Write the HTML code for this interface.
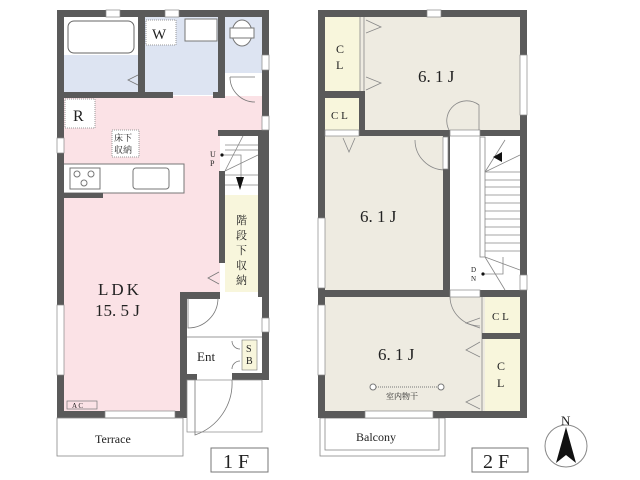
<!DOCTYPE html>
<html><head><meta charset="utf-8"><style>
body{margin:0;background:#fff}
svg{display:block}
text{font-family:"Liberation Serif","Noto Serif CJK SC",serif;fill:#222}
</style></head><body>
<svg width="640" height="480" viewBox="0 0 640 480" xmlns="http://www.w3.org/2000/svg">
<!-- ===== 1F ===== -->
<rect x="62" y="96" width="200" height="198" fill="#fbe2e6"/>
<rect x="62" y="290" width="120" height="126" fill="#fbe2e6"/>
<rect x="185" y="292" width="78" height="90" fill="#fff"/>
<rect x="220" y="132" width="42" height="162" fill="#fff"/>
<rect x="63" y="17" width="77" height="78" fill="#dde4f2"/>
<rect x="63" y="17" width="77" height="38" fill="#fff"/>
<rect x="68" y="21" width="66" height="32" rx="6" fill="#fff" stroke="#666"/>
<rect x="144" y="17" width="76" height="78" fill="#dde4f2"/>
<rect x="224" y="17" width="38" height="56" fill="#dde4f2"/>
<rect x="225" y="195" width="33" height="97" fill="#f8f6dc"/>
<g stroke="#888" stroke-width="0.8" fill="none">
<line x1="225" y1="145" x2="258" y2="145"/><line x1="225" y1="150" x2="258" y2="150"/>
<line x1="225" y1="175" x2="258" y2="175"/><line x1="225" y1="185" x2="258" y2="185"/>
<line x1="225" y1="171" x2="245" y2="132"/><line x1="225" y1="171" x2="258" y2="155"/>
<polyline points="222,155 241,155 241,185"/>
</g>
<polygon points="236,177 244,177 240,190" fill="#111"/>
<circle cx="222" cy="155" r="1.6" fill="#111"/>
<rect x="63" y="164" width="121" height="29" fill="#fff" stroke="#777"/>
<rect x="70" y="168" width="30" height="21" fill="#fff" stroke="#777"/>
<circle cx="77" cy="174" r="3" fill="none" stroke="#777"/><circle cx="91" cy="174" r="3" fill="none" stroke="#777"/><circle cx="84" cy="183" r="3" fill="none" stroke="#777"/>
<rect x="133" y="168" width="36" height="21" rx="3" fill="#fff" stroke="#777"/>
<rect x="185" y="19" width="32" height="22" fill="#fff" stroke="#777"/>
<ellipse cx="242" cy="33" rx="10" ry="13" fill="#fff" stroke="#777"/>
<rect x="230" y="28" width="24" height="10" fill="#fff" stroke="#777"/>
<g fill="#5a5a5a">
<rect x="57" y="10" width="212" height="7"/>
<rect x="57" y="10" width="7" height="408"/>
<rect x="262" y="10" width="7" height="370"/>
<rect x="57" y="411" width="130" height="7"/>
<rect x="180" y="292" width="7" height="126"/>
<rect x="180" y="292" width="40" height="7"/>
<rect x="63" y="92" width="110" height="6"/>
<rect x="213" y="92" width="12" height="6"/>
<rect x="138" y="17" width="7" height="78"/>
<rect x="218" y="17" width="7" height="80"/>
<rect x="218" y="130" width="45" height="6"/>
<rect x="219" y="171" width="6" height="92"/>
<rect x="258" y="132" width="5" height="165"/>
<rect x="63" y="193" width="40" height="5"/>
<rect x="232" y="373" width="37" height="7"/>
<rect x="187" y="374" width="10" height="6"/>
</g>
<g fill="#fff" stroke="#888" stroke-width="0.7">
<rect x="106" y="10" width="14" height="7"/><rect x="165" y="10" width="14" height="7"/>
<rect x="262" y="55" width="7" height="15"/><rect x="262" y="116" width="7" height="14"/>
<rect x="57" y="138" width="7" height="15"/><rect x="57" y="305" width="7" height="70"/>
<rect x="105" y="411" width="70" height="7"/><rect x="262" y="318" width="7" height="14"/>
</g>
<g fill="none" stroke="#777" stroke-width="0.8">
<path d="M230 77 A25 25 0 0 0 255 102"/><line x1="230" y1="77" x2="255" y2="77"/>
<path d="M188 298 v30 A30 30 0 0 0 218 298"/>
<path d="M195 380 v55 A55 55 0 0 0 232 380"/>
<polyline points="138,75 128,80 138,85"/>
<polyline points="219,272 208,278 219,284"/>
<line x1="187" y1="337" x2="262" y2="337"/>
<path d="M232 341 a8 8 0 0 0 8 8 M232 369 a8 8 0 0 1 8 -8"/>
</g>
<rect x="242" y="340" width="15" height="30" fill="#f8f6dc" stroke="#777" stroke-width="0.6"/>
<rect x="187" y="380" width="75" height="52" fill="none" stroke="#888" stroke-width="0.7"/>
<rect x="57" y="418" width="126" height="38" fill="none" stroke="#888" stroke-width="0.8"/>
<rect x="65" y="99" width="30" height="29" fill="#fff" stroke="#999" stroke-dasharray="1,1"/>
<text x="73" y="121" font-size="16">R</text>
<rect x="146" y="20" width="30" height="25" fill="#fff" stroke="#999" stroke-dasharray="1,1"/>
<text x="152" y="39" font-size="15">W</text>
<rect x="112" y="130" width="27" height="27" fill="#fff" stroke="#999" stroke-dasharray="1,1"/>
<text x="114" y="141" font-size="9">床下</text><text x="114" y="153" font-size="9">収納</text>
<text x="210" y="157" font-size="8">U</text><text x="210" y="166" font-size="8">P</text>
<text x="236" y="224" font-size="11">階</text><text x="236" y="239" font-size="11">段</text><text x="236" y="254" font-size="11">下</text><text x="236" y="269" font-size="11">収</text><text x="236" y="284" font-size="11">納</text>
<text x="98" y="295" font-size="17" letter-spacing="3">LDK</text>
<text x="95" y="316" font-size="17">15. 5 J</text>
<rect x="67" y="401" width="30" height="8" fill="none" stroke="#777" stroke-width="0.7"/>
<text x="72" y="408" font-size="7">A C</text>
<text x="197" y="361" font-size="13">Ent</text>
<text x="246" y="352" font-size="10">S</text><text x="246" y="364" font-size="10">B</text>
<text x="95" y="443" font-size="12">Terrace</text>
<rect x="211" y="448" width="57" height="24" fill="#fff" stroke="#777"/>
<text x="223" y="468" font-size="20">1 F</text>

<!-- ===== 2F ===== -->
<rect x="325" y="17" width="196" height="395" fill="#eeebe1"/>
<rect x="325" y="17" width="35" height="74" fill="#f8f6dc"/>
<rect x="325" y="98" width="34" height="32" fill="#f8f6dc"/>
<rect x="450" y="136" width="70" height="155" fill="#fff"/>
<rect x="485" y="297" width="35" height="36" fill="#f8f6dc"/>
<rect x="485" y="339" width="35" height="72" fill="#f8f6dc"/>
<g stroke="#888" stroke-width="0.8" fill="none">
<rect x="480" y="137" width="5" height="120"/>
<line x1="485" y1="172" x2="520" y2="172"/><line x1="485" y1="180" x2="520" y2="180"/><line x1="485" y1="187" x2="520" y2="187"/><line x1="485" y1="195" x2="520" y2="195"/><line x1="485" y1="203" x2="520" y2="203"/><line x1="485" y1="211" x2="520" y2="211"/><line x1="485" y1="219" x2="520" y2="219"/><line x1="485" y1="227" x2="520" y2="227"/><line x1="485" y1="235" x2="520" y2="235"/><line x1="485" y1="243" x2="520" y2="243"/><line x1="485" y1="251" x2="520" y2="251"/>
<line x1="485" y1="172" x2="505" y2="140"/><line x1="485" y1="172" x2="520" y2="155"/>
<line x1="485" y1="257" x2="520" y2="270"/><line x1="485" y1="257" x2="505" y2="290"/>
<polyline points="483,274 503,274 503,257"/>
<line x1="360" y1="17" x2="360" y2="92"/><line x1="364" y1="17" x2="364" y2="92"/>
<polyline points="366,20 381,27 366,33"/><polyline points="366,77 381,83 366,90"/>
<polyline points="343,138 349,152 355,138"/>
<path d="M449 130 A20 20 0 0 1 479 105 V130"/>
<path d="M415 140 A30 30 0 0 0 445 170"/>
<path d="M450 297 A30 30 0 0 0 480 326"/>
<polyline points="480,318 466,323 480,328"/><polyline points="480,342 466,350 480,357"/><polyline points="480,395 466,402 480,409"/>
<line x1="482" y1="297" x2="482" y2="411"/>
<rect x="320" y="418" width="125" height="38"/><rect x="325" y="418" width="114" height="32"/>
</g>
<polygon points="493,157 502,152 502,162" fill="#111"/>
<circle cx="483" cy="274" r="1.6" fill="#111"/>
<g fill="#5a5a5a">
<rect x="318" y="10" width="209" height="7"/>
<rect x="318" y="10" width="7" height="408"/>
<rect x="520" y="10" width="7" height="408"/>
<rect x="318" y="411" width="209" height="7"/>
<rect x="325" y="91" width="40" height="7"/>
<rect x="359" y="91" width="6" height="45"/>
<rect x="359" y="130" width="91" height="6"/>
<rect x="443" y="130" width="7" height="167"/>
<rect x="325" y="290" width="125" height="7"/>
<rect x="480" y="290" width="47" height="7"/>
<rect x="482" y="333" width="45" height="6"/>
<rect x="480" y="130" width="47" height="6"/>
</g>
<g fill="#fff" stroke="#888" stroke-width="0.7">
<rect x="427" y="10" width="14" height="7"/>
<rect x="520" y="55" width="7" height="60"/>
<rect x="318" y="218" width="7" height="70"/>
<rect x="318" y="305" width="7" height="70"/>
<rect x="365" y="411" width="68" height="7"/>
<rect x="520" y="275" width="7" height="15"/>
<rect x="325" y="130" width="34" height="6"/>
<rect x="450" y="130" width="30" height="6"/>
<rect x="450" y="290" width="30" height="7"/>
<rect x="443" y="137" width="5" height="32"/>
</g>
<text x="336" y="53" font-size="12">C</text><text x="336" y="69" font-size="12">L</text>
<text x="331" y="119" font-size="11">C L</text>
<text x="418" y="82" font-size="17">6. 1 J</text>
<text x="360" y="222" font-size="17">6. 1 J</text>
<text x="378" y="360" font-size="17">6. 1 J</text>
<text x="492" y="320" font-size="11">C L</text>
<text x="497" y="370" font-size="12">C</text><text x="497" y="387" font-size="12">L</text>
<text x="471" y="272" font-size="7">D</text><text x="471" y="281" font-size="7">N</text>
<circle cx="373" cy="387" r="3" fill="#fff" stroke="#777"/><circle cx="441" cy="387" r="3" fill="#fff" stroke="#777"/>
<line x1="376" y1="387" x2="438" y2="387" stroke="#777" stroke-dasharray="1,1"/>
<text x="386" y="399" font-size="8">室内物干</text>
<text x="356" y="441" font-size="12">Balcony</text>
<rect x="472" y="448" width="56" height="24" fill="#fff" stroke="#777"/>
<text x="483" y="468" font-size="20">2 F</text>
<circle cx="566" cy="446" r="21" fill="#fff" stroke="#888"/>
<polygon points="566,427 556,463 566,455 576,463" fill="#111"/>
<text x="561" y="425" font-size="13">N</text>
</svg>
</body></html>
